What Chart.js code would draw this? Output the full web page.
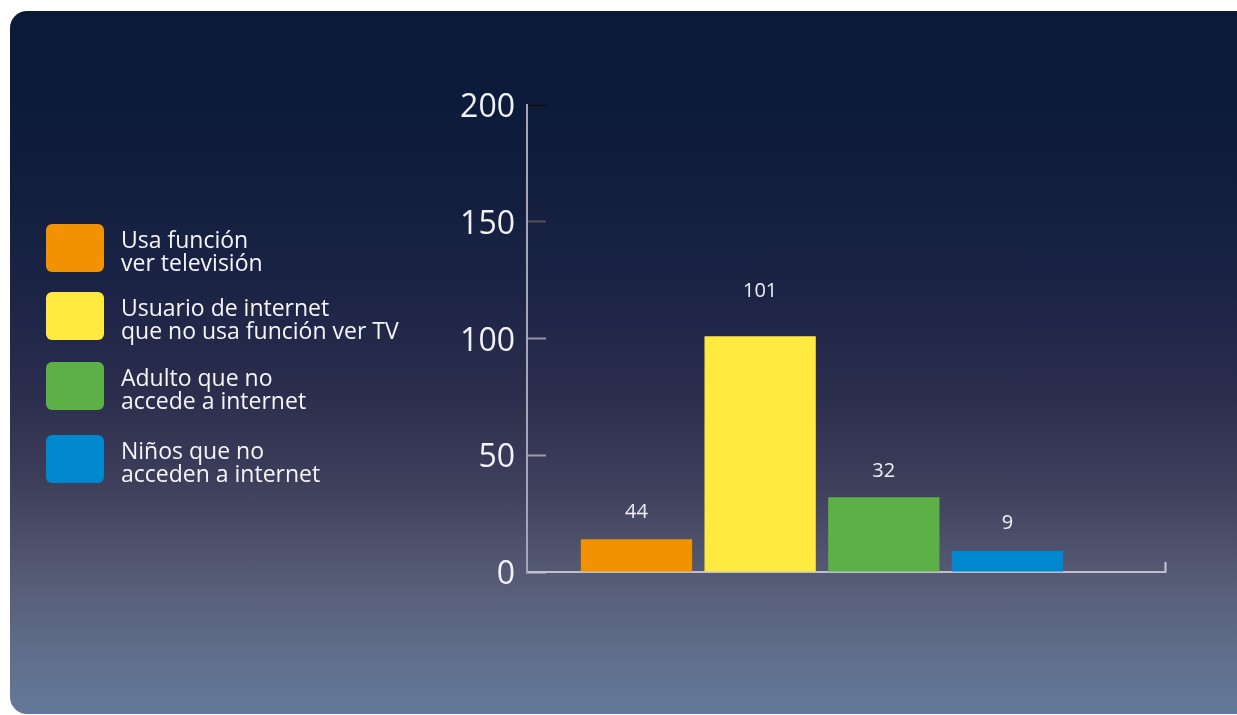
<!DOCTYPE html>
<html>
<head>
<meta charset="utf-8">
<script src="https://cdn.jsdelivr.net/npm/chart.js@4.4.1/dist/chart.umd.min.js"></script>
<style>
  html, body { margin: 0; padding: 0; background: #fff; overflow: hidden; }
  #panel {
    position: absolute; left: 10px; top: 11px; width: 1260px; height: 703px;
    border-radius: 17px 0 0 17px;
    background: linear-gradient(to bottom, #0a1a37 0%, #0f1c3c 20%, #1c2446 40%, #2c2e4d 55%, #3f405c 68%, #555a74 80%, #5f6c88 90%, #63799a 100%);
  }
  #chart { position: absolute; left: 0; top: 0; }
</style>
</head>
<body>
<div id="panel"></div>
<canvas id="chart" width="1237" height="715"></canvas>
<script>
// categories (legend text, two lines each)
const categories = [
  ['Usa función', 'ver televisión'],
  ['Usuario de internet', 'que no usa función ver TV'],
  ['Adulto que no', 'accede a internet'],
  ['Niños que no', 'acceden a internet']
];
// bar heights as drawn in the picture
const barValues = [14, 101, 32, 9];
// numbers printed above the bars
const valueLabels = ['44', '101', '32', '9'];
const barColors = ['#f29200', '#ffeb40', '#5cb046', '#0088cf'];
const yTicks = [0, 50, 100, 150, 200];

const FONT = '"Open Sans", "Noto Sans", sans-serif';

// numbers above bars
const valueLabelPlugin = {
  id: 'valueLabels',
  afterDatasetsDraw(chart) {
    const ctx = chart.ctx;
    const gaps = [27, 45, 26, 28];
    ctx.save();
    ctx.fillStyle = '#eef0f5';
    ctx.font = '20px ' + FONT;
    ctx.textAlign = 'center';
    ctx.textBaseline = 'middle';
    chart.getDatasetMeta(0).data.forEach((bar, i) => {
      ctx.fillText(valueLabels[i], bar.x, bar.y - gaps[i]);
    });
    ctx.restore();
  }
};

// legend on the left, boxes + two line text
const sideLegend = {
  id: 'sideLegend',
  afterDraw(chart) {
    const ctx = chart.ctx;
    const tops = [224, 292, 362, 435];
    ctx.save();
    categories.forEach((lines, i) => {
      const y = tops[i];
      ctx.fillStyle = barColors[i];
      ctx.beginPath();
      ctx.roundRect(46, y, 58, 48, 6);
      ctx.fill();
      ctx.fillStyle = '#f6f6fa';
      ctx.font = '23px ' + FONT;
      ctx.textAlign = 'left';
      ctx.textBaseline = 'alphabetic';
      ctx.fillText(lines[0], 121, y + 24);
      ctx.fillText(lines[1], 121, y + 47);
    });
    ctx.restore();
  }
};

const yTickColors = ['#c0c0cc', '#9c9cae', '#9595a8', '#5a4c50', '#111111'];

new Chart(document.getElementById('chart'), {
  type: 'bar',
  data: {
    datasets: [{
      data: barValues.map((v, i) => ({ x: i + 1, y: v })),
      backgroundColor: barColors,
      borderWidth: 0,
      categoryPercentage: 1,
      barPercentage: 0.9
    }]
  },
  options: {
    responsive: false,
    animation: false,
    devicePixelRatio: 1,
    layout: { padding: { left: 0, top: 105, right: 72, bottom: 143 } },
    plugins: { legend: { display: false }, tooltip: { enabled: false } },
    scales: {
      x: {
        type: 'linear',
        offset: false,
        min: 0.1146,
        max: 5.274,
        afterBuildTicks(scale) { scale.ticks = [{ value: scale.max }]; },
        afterFit(scale) { scale.height = 0; },
        ticks: { display: false },
        grid: { offset: false, drawOnChartArea: false, tickLength: -10, tickColor: '#c8c8d4', tickWidth: 2 },
        border: { color: '#c0c0cc', width: 2 }
      },
      y: {
        min: 0,
        max: 200,
        afterBuildTicks(scale) { scale.ticks = yTicks.map(v => ({ value: v })); },
        afterFit(scale) { scale.width = 527; },
        ticks: {
          color: '#f2f2f6',
          font: { family: FONT, size: 32 },
          padding: 31,
          labelOffset: 3
        },
        grid: {
          drawOnChartArea: false,
          tickLength: -19,
          tickWidth: 2,
          tickColor: (c) => yTickColors[c.index]
        },
        border: { color: '#a5a5b5', width: 2 }
      }
    }
  },
  plugins: [valueLabelPlugin, sideLegend]
});
</script>
</body>
</html>
